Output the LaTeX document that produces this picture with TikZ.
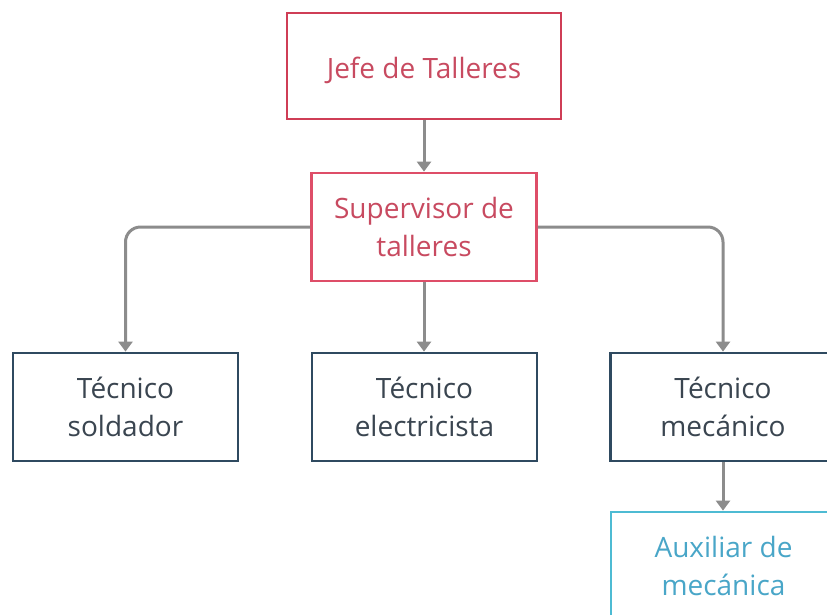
\documentclass[tikz,border=0pt]{standalone}
\usepackage{fontspec}
\setmainfont{Open Sans}
\usetikzlibrary{arrows.meta}
\definecolor{redline}{HTML}{CF3D56}
\definecolor{pinkline}{HTML}{DE4E68}
\definecolor{redtext}{HTML}{C84A60}
\definecolor{navyline}{HTML}{2F4A60}
\definecolor{navytext}{HTML}{3A4550}
\definecolor{cyanline}{HTML}{4DBBD3}
\definecolor{cyantext}{HTML}{49A6C8}
\definecolor{connector}{HTML}{8C8C8C}
\tikzset{
  box/.style={draw, line width=2.8pt, minimum width=225pt, minimum height=108pt,
    align=center, inner sep=0pt, font=\fontsize{28}{38}\selectfont},
  topbox/.style={box, draw=redline, text=redtext},
  supbox/.style={box, draw=pinkline, text=redtext},
  techbox/.style={box, draw=navyline, text=navytext},
  auxbox/.style={box, draw=cyanline, text=cyantext},
  link/.style={draw=connector, line width=3pt, rounded corners=15pt,
    -{Triangle[width=14pt,length=10pt]}}
}
\begin{document}
\begin{tikzpicture}[x=1pt,y=-1pt]
\useasboundingbox (0,0) rectangle (827,614);
\clip (0,0) rectangle (827,614);
\fill[white] (0,0) rectangle (827,614);
\node[topbox, minimum width=274pt, minimum height=106pt] (jefe) at (424,66) {\raisebox{-12pt}[0pt][0pt]{Jefe de Talleres}};
\node[supbox] (sup) at (424,227) {Supervisor de\\talleres};
\node[techbox] (sold) at (125.5,407) {Técnico\\soldador};
\node[techbox] (elec) at (424.5,407) {Técnico\\electricista};
\node[techbox] (mec) at (723,407) {Técnico\\mecánico};
\node[auxbox] (aux) at (723.5,566) {Auxiliar de\\mecánica};
\draw[link] (jefe.south) -- (sup.north);
\draw[link] (sup.west) -| (sold.north);
\draw[link] (sup.east) -| (mec.north);
\draw[link] (sup.south) -- (sup.south |- elec.north);
\draw[link] (mec.south) -- (mec.south |- aux.north);
\end{tikzpicture}
\end{document}
